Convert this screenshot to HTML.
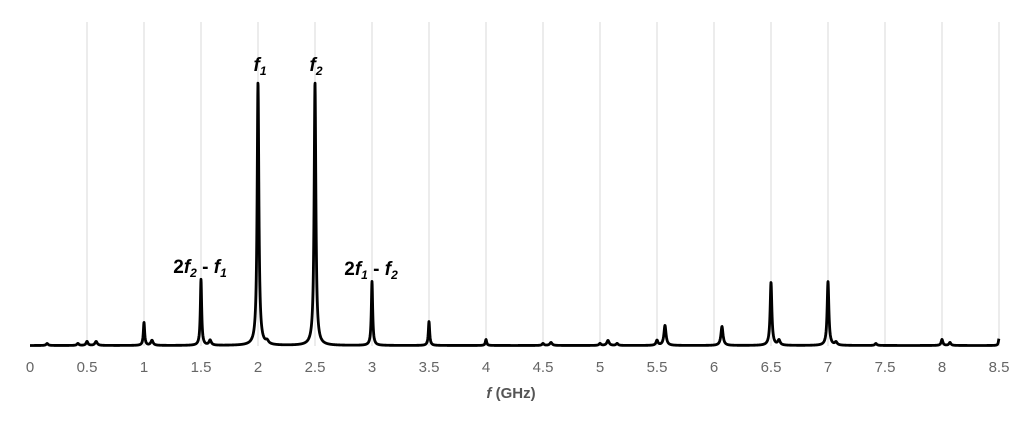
<!DOCTYPE html>
<html><head><meta charset="utf-8"><style>
html,body{margin:0;padding:0;background:#fff;}
svg{display:block;font-family:"Liberation Sans",sans-serif;}
</style></head><body>
<svg id="s" width="1024" height="423" viewBox="0 0 1024 423">
<g id="grid" stroke="#d9d9d9" stroke-width="1"></g>
<g id="lab" fill="#666" font-size="15" text-anchor="middle"></g>
<path id="p" fill="none" stroke="#000" stroke-width="2.8" stroke-linejoin="round"/>
<g font-weight="bold" font-style="italic" font-size="19" fill="#000" text-anchor="middle">
<text x="260" y="71">f<tspan font-size="12" dy="4">1</tspan></text>
<text x="316" y="71">f<tspan font-size="12" dy="4">2</tspan></text>
<text x="200" y="273"><tspan font-style="normal">2</tspan>f<tspan font-size="12" dy="4">2</tspan><tspan dy="-4" font-style="normal"> - </tspan>f<tspan font-size="12" dy="4">1</tspan></text>
<text x="371" y="275"><tspan font-style="normal">2</tspan>f<tspan font-size="12" dy="4">1</tspan><tspan dy="-4" font-style="normal"> - </tspan>f<tspan font-size="12" dy="4">2</tspan></text>
</g>
<text x="511" y="398" font-size="15" font-weight="bold" fill="#555" text-anchor="middle"><tspan font-style="italic">f</tspan> (GHz)</text>
</svg>
<script>
var X=function(f){return 30+f*114;};
var B=346,g=document.getElementById('grid'),l=document.getElementById('lab'),ns='http://www.w3.org/2000/svg';
for(var i=0;i<=17;i++){var f=i*0.5,x=X(f);
 if(i>0){var ln=document.createElementNS(ns,'line');ln.setAttribute('x1',x);ln.setAttribute('x2',x);ln.setAttribute('y1',22);ln.setAttribute('y2',B);g.appendChild(ln);}
 var t=document.createElementNS(ns,'text');t.setAttribute('x',x);t.setAttribute('y',372);t.textContent=(f%1?f:f.toFixed(0));l.appendChild(t);}
var pk=[[2,263,.009],[2.5,263,.009],[1.5,66,.007],[3,64,.007],[6.5,63,.009],[7,64,.009],[1,23,.007],[3.5,24,.007],[5.57,20,.011],[6.07,19,.011],[4,6,.007],[8,6,.009],[8.5,7,.006],[.5,4,.01],[.58,4,.012],[1.07,5,.012],[1.58,5,.012],[.15,2,.01],[5.07,5,.012],[4.57,3,.012],[5.5,5,.01],[6.57,5,.012],[7.07,3,.012],[7.42,2,.01],[8.07,3,.01],[2.08,3,.015],[.42,2,.01],[5.0,2,.01],[4.5,2,.01],[5.15,2,.01]];
var d='';for(var f=0;f<=8.5;f+=0.0015){var y=0.5;for(var k=0;k<pk.length;k++){var q=pk[k],dd=f-q[0];y+=q[1]*q[2]*q[2]/(q[2]*q[2]+dd*dd);}
 d+=(d?'L':'M')+X(f).toFixed(2)+' '+(B-y).toFixed(2);}
document.getElementById('p').setAttribute('d',d);
</script>
</body></html>
